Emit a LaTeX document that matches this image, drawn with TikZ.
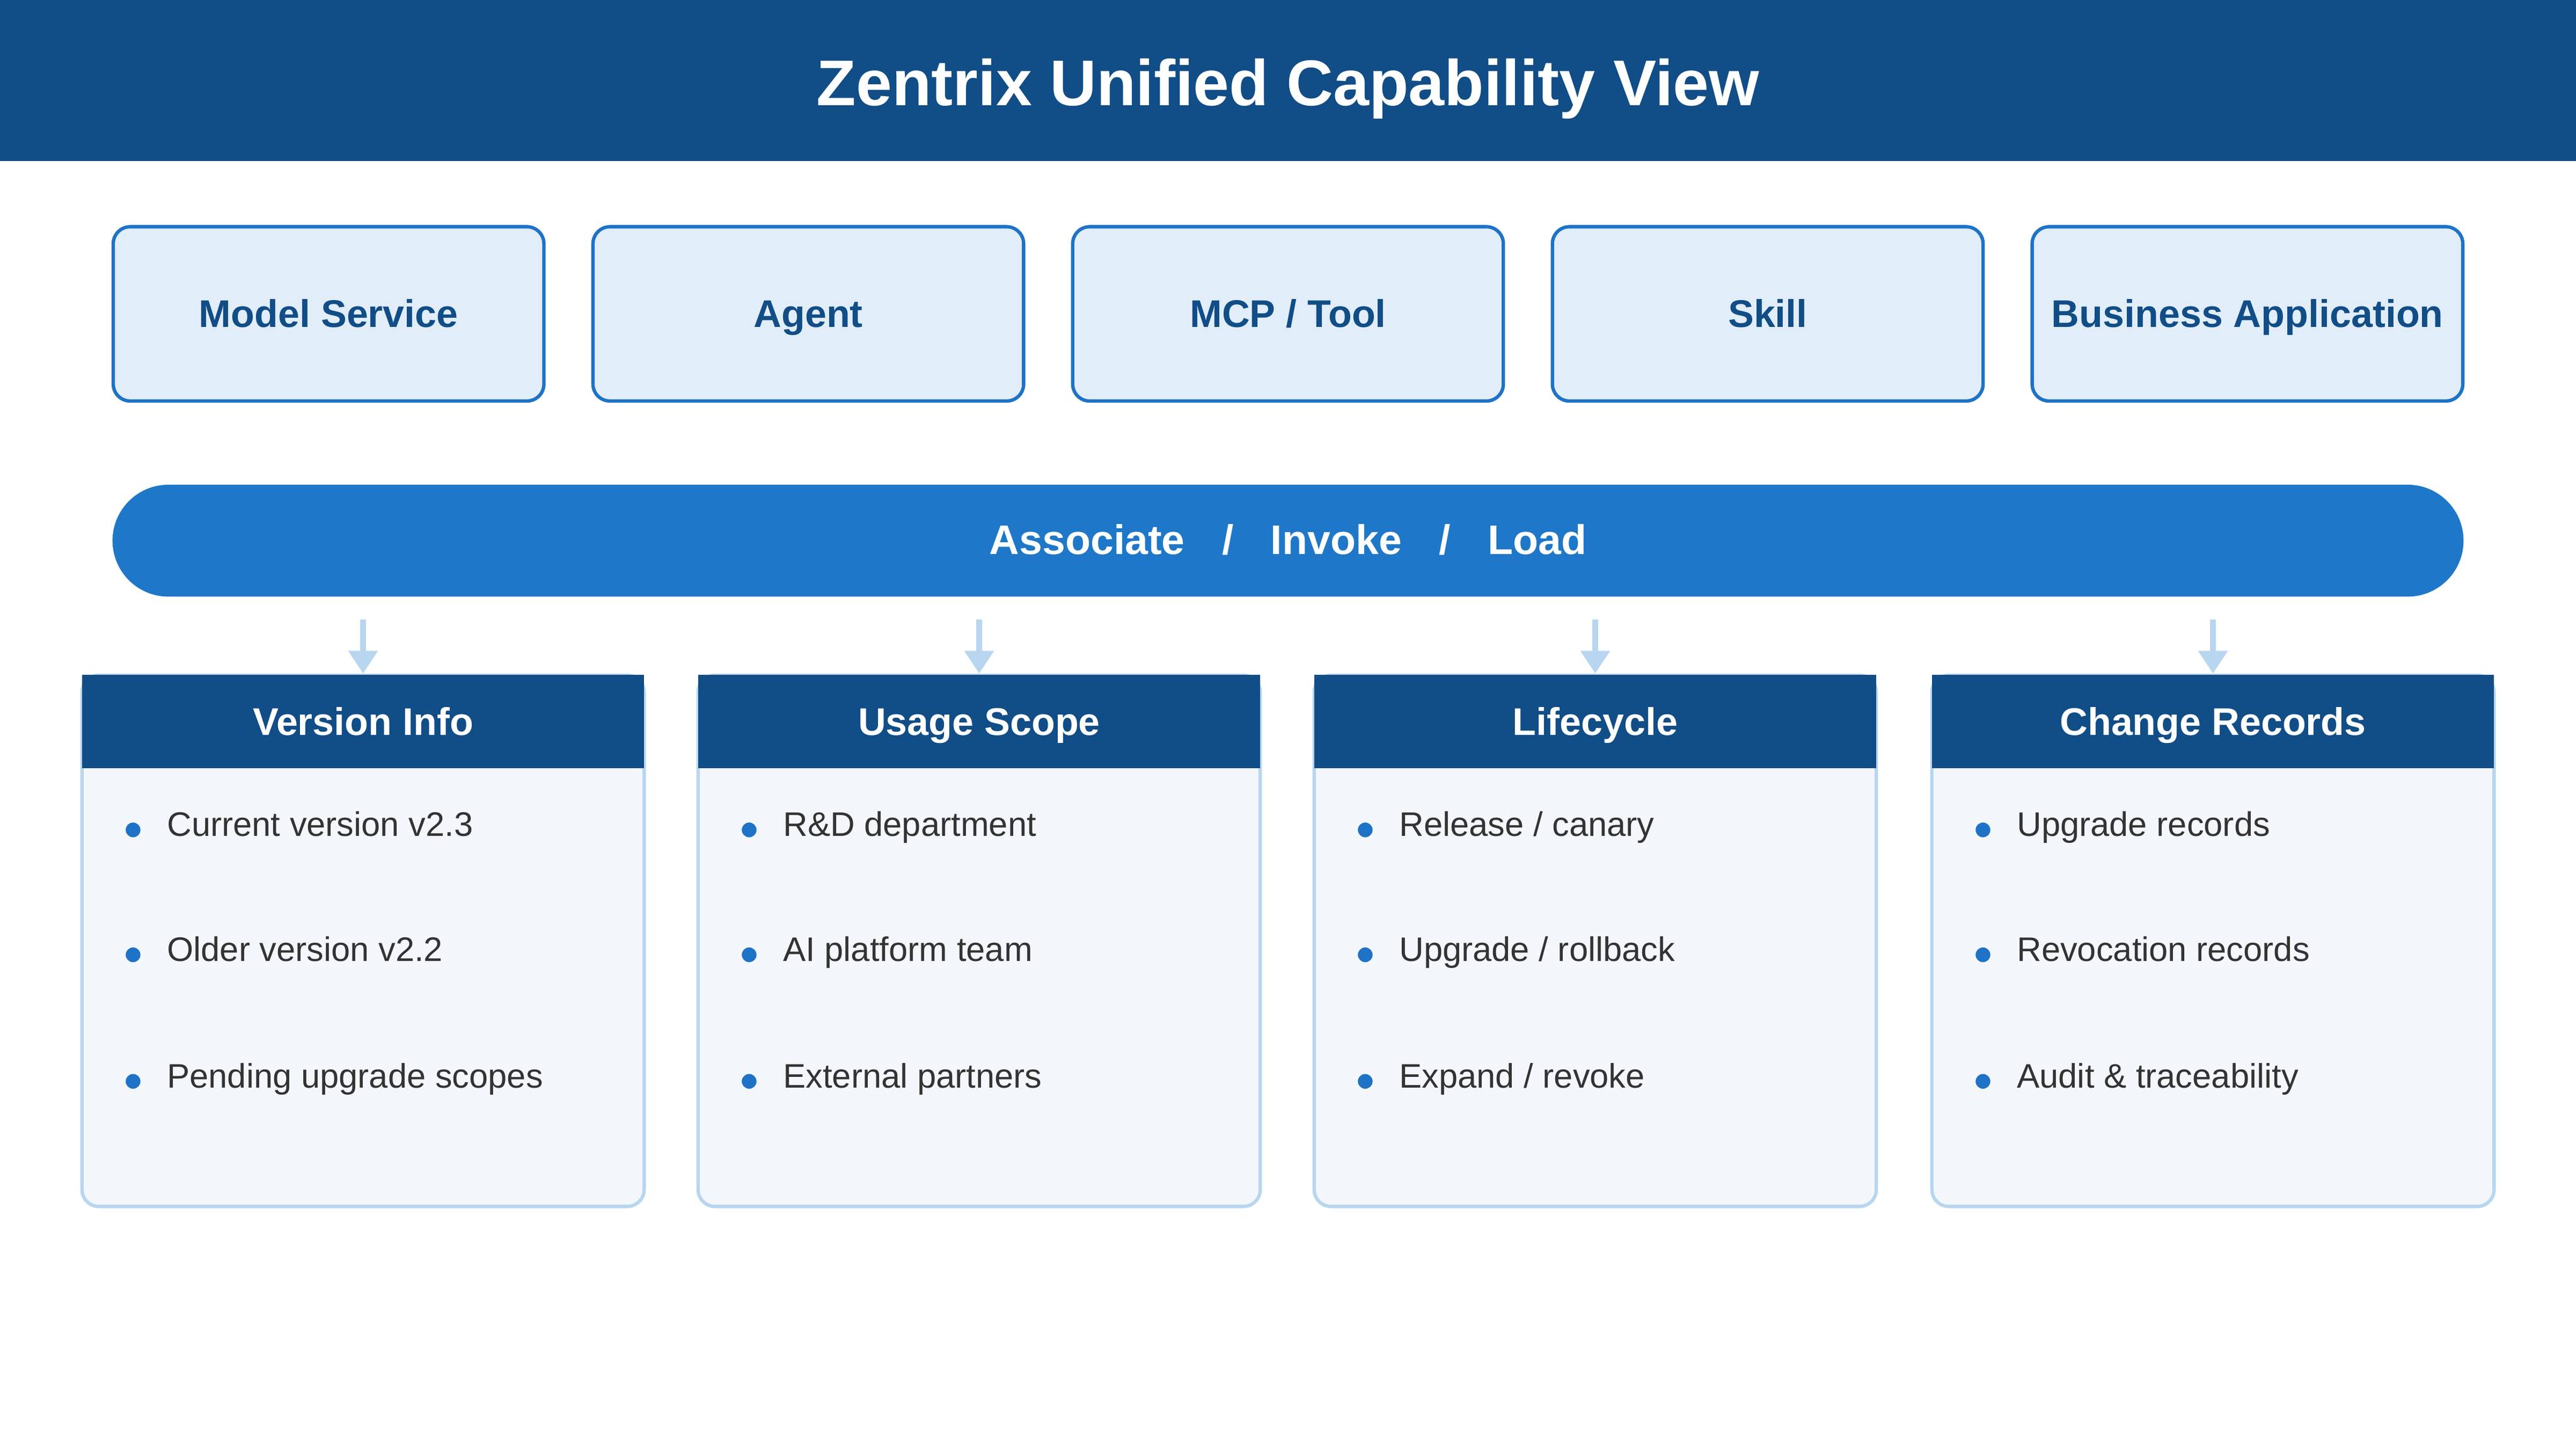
\documentclass[tikz,border=0pt]{standalone}
\usepackage{fontspec}
\setmainfont{Liberation Sans}
\usetikzlibrary{positioning,arrows.meta}
\definecolor{navy}{HTML}{114D87}
\definecolor{capfill}{HTML}{E1EDF8}
\definecolor{capline}{HTML}{1E73C6}
\definecolor{barblue}{HTML}{1E77C8}
\definecolor{paleline}{HTML}{B8D6F0}
\definecolor{panelfill}{HTML}{F3F7FC}
\definecolor{bodytext}{HTML}{333333}
\tikzset{
  capbox/.style={draw=capline, line width=0.6pt, fill=capfill, rounded corners=3pt,
    minimum width=2.672cm, minimum height=1.081cm, inner sep=0pt,
    text height=1.45ex, text depth=0.55ex,
    text=navy, font=\fontsize{6.8}{8}\selectfont\bfseries},
  panel/.style={draw=paleline, line width=0.6pt, fill=panelfill, rounded corners=3pt,
    minimum width=3.488cm, minimum height=3.295cm, inner sep=0pt},
  panelhead/.style={fill=navy, minimum width=3.488cm, minimum height=0.581cm,
    inner sep=0pt, text height=1.45ex, text depth=0.55ex,
    text=white, font=\fontsize{6.8}{8}\selectfont\bfseries},
  item/.style={anchor=west, text=bodytext, inner sep=0pt,
    text height=1.6ex, text depth=0.4ex, font=\fontsize{6}{7}\selectfont},
  dot/.style={circle, fill=capline, minimum size=2.6pt, inner sep=0pt},
  down/.style={-{Triangle[width=5pt,length=4pt]}, draw=paleline, line width=1pt}
}
\begin{document}
\begin{tikzpicture}[x=0.0102cm,y=-0.0102cm]
    \useasboundingbox (0,0) rectangle (1568,882);
    % title band
    \fill[navy] (0,0) rectangle (1568,98);
    \node[text=white, text height=1.5ex, text depth=0.5ex, font=\fontsize{11.4}{13}\selectfont\bfseries]
      (title) at (784,55) {Zentrix Unified Capability View};

    % capability boxes
    \node[capbox] (model)    at (200,191)  {Model Service};
    \node[capbox] (agent)    at (492,191)  {Agent};
    \node[capbox] (mcp)      at (784,191)  {MCP / Tool};
    \node[capbox] (skill)    at (1076,191) {Skill};
    \node[capbox] (business) at (1368,191) {Business Application};

    % bar
    \node[fill=barblue, rounded corners=0.347cm, minimum width=14.586cm, minimum height=0.694cm,
      inner sep=0pt, text height=1.45ex, text depth=0.55ex, text=white, font=\fontsize{7.3}{9}\selectfont\bfseries]
      (bar) at (784,329) {Associate\hspace{0.9em}/\hspace{0.9em}Invoke\hspace{0.9em}/\hspace{0.9em}Load};

    % panels
    \foreach \px/\name/\head/\a/\b/\c in {
        221/version/Version Info/Current version v2.3/Older version v2.2/Pending upgrade scopes,
        596/usage/Usage Scope/R\&D department/AI platform team/External partners,
        971/life/Lifecycle/{Release / canary}/{Upgrade / rollback}/{Expand / revoke},
        1347/change/Change Records/Upgrade records/Revocation records/Audit \& traceability} {
      \node[panel] (\name) at (\px,572.5) {};
      \node[panelhead, anchor=north] (\name-head) at (\name.north) {\head};
      \coordinate (\name-from) at (\px,377);
      \draw[down] (\name-from) -- (\name-head.north);
      \node[dot] (\name-d1) at (\px-140,505) {};
      \node[dot] (\name-d2) at (\px-140,581) {};
      \node[dot] (\name-d3) at (\px-140,658) {};
      \node[item] (\name-t1) at (\px-120,498) {\a};
      \node[item] (\name-t2) at (\px-120,574) {\b};
      \node[item] (\name-t3) at (\px-120,651) {\c};
    }
\end{tikzpicture}
\end{document}
